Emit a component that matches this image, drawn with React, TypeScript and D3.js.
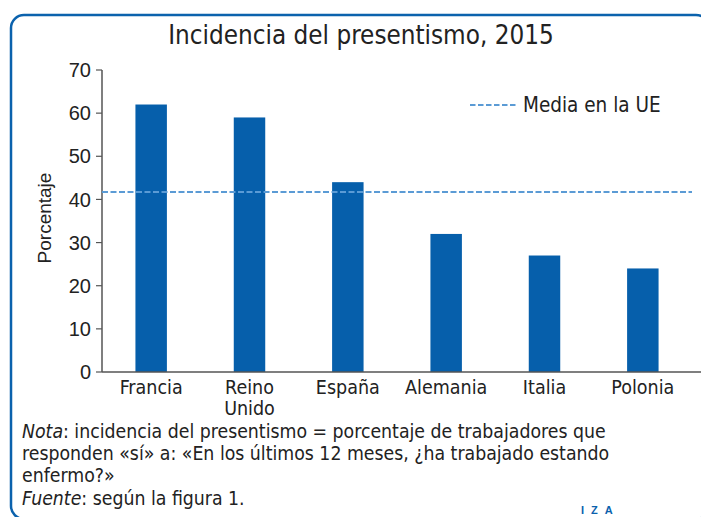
import React, { useEffect, useRef } from "react";
import * as d3 from "d3";

const categories = ["Francia", "Reino Unido", "España", "Alemania", "Italia", "Polonia"];
const values = [62, 59, 44, 32, 27, 24];
const euAverage = 41.7;
const yTicks = [0, 10, 20, 30, 40, 50, 60, 70];
const titleText = "Incidencia del presentismo, 2015";
const yLabel = "Porcentaje";
const legendLabel = "Media en la UE";
const noteLines = [
  ["Nota", ": incidencia del presentismo = porcentaje de trabajadores que"],
  ["", "responden «sí» a: «En los últimos 12 meses, ¿ha trabajado estando"],
  ["", "enfermo?»"],
  ["Fuente", ": según la figura 1."],
];

const W = 701;
const H = 517;
const NARROW = "'Liberation Sans Narrow', 'DejaVu Sans Condensed', 'Roboto', sans-serif";
const SANS = "'Liberation Sans', Arial, sans-serif";
const BAR = "#065fab";
const DASH = "#5b9bd5";
const AXIS = "#555";
const TEXT = "#222";

export default function App() {
  const ref = useRef<SVGSVGElement | null>(null);

  useEffect(() => {
    const svg = d3.select(ref.current);
    svg.selectAll("*").remove();

    const x = d3.scaleBand<string>().domain(categories).range([102, 692]).paddingInner(0.68).paddingOuter(0.34);
    const y = d3.scaleLinear().domain([0, 70]).range([372, 70]);

    // frame
    svg.append("rect")
      .attr("x", 11).attr("y", 15).attr("width", 698).attr("height", 504)
      .attr("rx", 13).attr("fill", "none").attr("stroke", "#0b62ad").attr("stroke-width", 2.5);

    // title
    svg.append("text").attr("x", 361).attr("y", 44).attr("text-anchor", "middle")
      .attr("font-family", NARROW).attr("font-size", 25.8).attr("fill", TEXT).text(titleText);

    // bars
    svg.append("g").selectAll("rect").data(categories).join("rect")
      .attr("x", (d) => x(d)!)
      .attr("width", x.bandwidth())
      .attr("y", (_d, i) => y(values[i]))
      .attr("height", (_d, i) => y(0) - y(values[i]))
      .attr("fill", BAR);

    // y axis
    const ya = svg.append("g");
    ya.append("line").attr("x1", 102).attr("x2", 102).attr("y1", y(70)).attr("y2", y(0))
      .attr("stroke", AXIS).attr("stroke-width", 1.5);
    const t = ya.selectAll("g.tick").data(yTicks).join("g").attr("class", "tick")
      .attr("transform", (d) => `translate(0,${y(d)})`);
    t.append("line").attr("x1", 96).attr("x2", 102).attr("stroke", AXIS).attr("stroke-width", 1.2);
    t.append("text").attr("x", 91).attr("dy", "0.36em").attr("text-anchor", "end")
      .attr("font-family", SANS).attr("font-size", 20).attr("fill", TEXT).text((d) => String(d));

    // x axis
    svg.append("line").attr("x1", 102).attr("x2", W).attr("y1", y(0)).attr("y2", y(0))
      .attr("stroke", AXIS).attr("stroke-width", 1.5);

    const xl = svg.append("g").selectAll("text").data(categories).join("text")
      .attr("x", (d) => x(d)! + x.bandwidth() / 2)
      .attr("y", 394)
      .attr("text-anchor", "middle")
      .attr("font-family", NARROW).attr("font-size", 19.5).attr("fill", TEXT);
    xl.each(function (d) {
      const parts = d.split(" ");
      const el = d3.select(this);
      parts.forEach((p, i) => {
        el.append("tspan").attr("x", x(d)! + x.bandwidth() / 2).attr("dy", i === 0 ? 0 : 21).text(p);
      });
    });

    // y label
    svg.append("text").attr("transform", "translate(51,218) rotate(-90)").attr("text-anchor", "middle")
      .attr("font-family", SANS).attr("font-size", 19).attr("fill", TEXT).text(yLabel);

    // EU average line
    svg.append("line").attr("x1", 102).attr("x2", 692).attr("y1", y(euAverage)).attr("y2", y(euAverage))
      .attr("stroke", DASH).attr("stroke-width", 2).attr("stroke-dasharray", "6,2.5");

    // legend
    svg.append("line").attr("x1", 470).attr("x2", 516).attr("y1", 105).attr("y2", 105)
      .attr("stroke", DASH).attr("stroke-width", 2).attr("stroke-dasharray", "5.5,2.5");
    svg.append("text").attr("x", 523).attr("y", 112).attr("font-family", NARROW)
      .attr("font-size", 20.5).attr("fill", TEXT).text(legendLabel);

    // notes
    const baselines = [438, 460, 482, 505];
    noteLines.forEach(([it, rest], i) => {
      const tx = svg.append("text").attr("x", 22).attr("y", baselines[i])
        .attr("font-family", NARROW).attr("font-size", 19.3).attr("fill", TEXT);
      if (it) tx.append("tspan").attr("font-style", "italic").text(it);
      tx.append("tspan").text(rest);
    });

    // IZA logo
    svg.append("text").attr("x", 581).attr("y", 513.5).attr("font-family", SANS).attr("font-weight", "bold")
      .attr("font-size", 11).attr("letter-spacing", 7).attr("fill", "#0b62ad").text("IZA");
  }, []);

  return (
    <svg
      ref={ref}
      width={W}
      height={H}
      style={{ position: "absolute", left: 0, top: 0, background: "#fff" }}
    />
  );
}
